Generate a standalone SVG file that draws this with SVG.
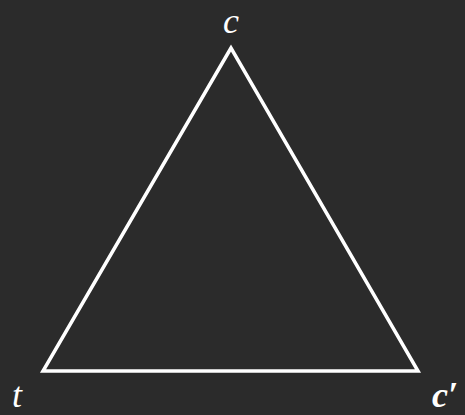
<svg xmlns="http://www.w3.org/2000/svg" width="465" height="415" viewBox="0 0 465 415">
<style>
.lbl{font-family:"Liberation Serif","Times New Roman",serif;font-style:italic;fill:#ffffff;font-size:36px}
.edge{fill:none;stroke:#ffffff;stroke-width:3.5;stroke-linejoin:miter}
</style>
<rect width="465" height="415" fill="#2b2b2b"/>
<g id="connectors">
<polygon class="edge" points="231,48 43,371 418,371"/>
</g>
<g id="node-c"><text class="lbl" x="223" y="33">c</text></g>
<g id="node-t"><text class="lbl" x="12" y="407">t</text></g>
<g id="node-c2"><text class="lbl" x="432" y="407" font-weight="bold">c′</text></g>
</svg>
